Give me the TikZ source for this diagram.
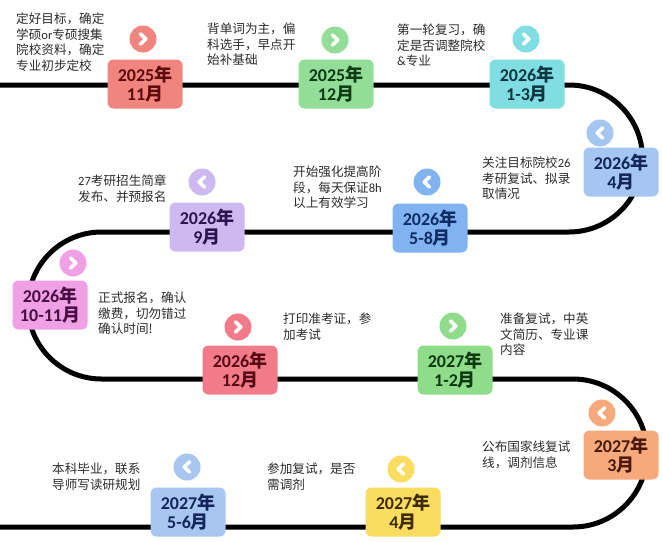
\documentclass[tikz,border=0pt]{standalone}
\usepackage{fontspec}
\setmainfont{Noto Sans CJK SC}
\newfontfamily\latf{Carlito}
\definecolor{txt}{HTML}{2B2B2B}
\definecolor{f1}{HTML}{F0857F}\definecolor{k1}{HTML}{5E0B0B}
\definecolor{f2}{HTML}{92DE98}\definecolor{k2}{HTML}{0E3A16}
\definecolor{f3}{HTML}{80DEE2}\definecolor{k3}{HTML}{0C3640}
\definecolor{f4}{HTML}{A4C6F0}\definecolor{k4}{HTML}{12265A}
\definecolor{f5}{HTML}{80B3F0}\definecolor{k5}{HTML}{102C66}
\definecolor{f6}{HTML}{CDB9F0}\definecolor{k6}{HTML}{2C1450}
\definecolor{f7}{HTML}{F0A0E4}\definecolor{k7}{HTML}{480E44}
\definecolor{f8}{HTML}{F27B89}\definecolor{k8}{HTML}{560A14}
\definecolor{f9}{HTML}{8FDC8B}\definecolor{k9}{HTML}{0E3810}
\definecolor{f10}{HTML}{F6A97C}\definecolor{k10}{HTML}{4A1A06}
\definecolor{f11}{HTML}{F9DC60}\definecolor{k11}{HTML}{3E2A05}
\definecolor{f12}{HTML}{A8C6F0}\definecolor{k12}{HTML}{12265A}
\tikzset{
  x=1pt, y=1pt,
  track/.style={line width=5pt, black},
  datebox/.style={rounded corners=6pt, minimum width=75pt, minimum height=49pt, inner sep=1pt, align=center,
    font=\fontsize{18}{18.5}\selectfont\bfseries},
  chevcirc/.style={circle, minimum size=27pt, inner sep=0pt},
  chev/.style={white, line width=3.6pt, line cap=round, line join=round},
  desc/.style={anchor=north west, inner sep=0pt, align=left, text=txt, font=\fontsize{12.6}{15.5}\selectfont}
}
\newcommand\chevR[1]{\draw[chev] ([xshift=-2.5pt,yshift=5pt]#1.center) -- ([xshift=2.8pt]#1.center) -- ([xshift=-2.5pt,yshift=-5pt]#1.center);}
\newcommand\chevL[1]{\draw[chev] ([xshift=2.5pt,yshift=5pt]#1.center) -- ([xshift=-2.8pt]#1.center) -- ([xshift=2.5pt,yshift=-5pt]#1.center);}
\begin{document}
\begin{tikzpicture}
\useasboundingbox (0,0) rectangle (663,-541);
% track
\coordinate (s0) at (0,-85);
\coordinate (s1) at (569,-85);
\coordinate (s2) at (101.5,-232);
\coordinate (s3) at (573,-379);
\coordinate (s4) at (0,-527);
\draw[track] (s0) -- (s1) arc[start angle=90, end angle=-90, radius=73.5] -- (s2)
  arc[start angle=90, end angle=270, radius=73.5] -- (s3)
  arc[start angle=90, end angle=-90, radius=74] -- (s4);

% row 1
\node[datebox, fill=f1, text=k1] (b1) at (145,-84) {{\latf 2025}年\\{\latf 11}月};
\node[chevcirc, fill=f1] (c1) at (143,-39) {}; \chevR{c1}
\node[desc] (t1) at (16,-13) {定好目标，确定\\学硕{\latf or}专硕搜集\\院校资料，确定\\专业初步定校};

\node[datebox, fill=f2, text=k2] (b2) at (336,-84) {{\latf 2025}年\\{\latf 12}月};
\node[chevcirc, fill=f2] (c2) at (335,-40) {}; \chevR{c2}
\node[desc] (t2) at (207,-23) {背单词为主，偏\\科选手，早点开\\始补基础};

\node[datebox, fill=f3, text=k3] (b3) at (527,-84) {{\latf 2026}年\\{\latf 1-3}月};
\node[chevcirc, fill=f3] (c3) at (526,-39) {}; \chevR{c3}
\node[desc] (t3) at (397,-24) {第一轮复习，确\\定是否调整院校\\{\latf\&}专业};

% row 2
\node[datebox, fill=f4, text=k4] (b4) at (621,-172) {{\latf 2026}年\\{\latf 4}月};
\node[chevcirc, fill=f4] (c4) at (600,-133) {}; \chevL{c4}
\node[desc] (t4) at (482,-157) {关注目标院校{\latf 26}\\考研复试、拟录\\取情况};

\node[datebox, fill=f5, text=k5] (b5) at (430,-228) {{\latf 2026}年\\{\latf 5-8}月};
\node[chevcirc, fill=f5] (c5) at (427,-182) {}; \chevL{c5}
\node[desc] (t5) at (293,-166) {开始强化提高阶\\段，每天保证{\latf 8h}\\以上有效学习};

\node[datebox, fill=f6, text=k6] (b6) at (207,-227) {{\latf 2026}年\\{\latf 9}月};
\node[chevcirc, fill=f6] (c6) at (202,-182) {}; \chevL{c6}
\node[desc] (t6) at (78,-175) {{\latf 27}考研招生简章\\发布、并预报名};

% row 3
\node[datebox, fill=f7, text=k7] (b7) at (50,-305) {{\latf 2026}年\\{\latf 10-11}月};
\node[chevcirc, fill=f7] (c7) at (73,-263) {}; \chevR{c7}
\node[desc] (t7) at (98,-292) {正式报名，确认\\缴费，切勿错过\\确认时间!};

\node[datebox, fill=f8, text=k8] (b8) at (240,-370) {{\latf 2026}年\\{\latf 12}月};
\node[chevcirc, fill=f8] (c8) at (238,-327) {}; \chevR{c8}
\node[desc] (t8) at (283,-313) {打印准考证，参\\加考试};

\node[datebox, fill=f9, text=k9] (b9) at (455,-370) {{\latf 2027}年\\{\latf 1-2}月};
\node[chevcirc, fill=f9] (c9) at (453,-326) {}; \chevR{c9}
\node[desc] (t9) at (500,-313) {准备复试，中英\\文简历、专业课\\内容};

% row 4
\node[datebox, fill=f10, text=k10] (b10) at (621,-455) {{\latf 2027}年\\{\latf 3}月};
\node[chevcirc, fill=f10] (c10) at (602,-413) {}; \chevL{c10}
\node[desc] (t10) at (482,-441) {公布国家线复试\\线，调剂信息};

\node[datebox, fill=f11, text=k11] (b11) at (403,-512) {{\latf 2027}年\\{\latf 4}月};
\node[chevcirc, fill=f11] (c11) at (401,-469) {}; \chevL{c11}
\node[desc] (t11) at (267,-463) {参加复试，是否\\需调剂};

\node[datebox, fill=f12, text=k12] (b12) at (188,-512) {{\latf 2027}年\\{\latf 5-6}月};
\node[chevcirc, fill=f12] (c12) at (187,-467) {}; \chevL{c12}
\node[desc] (t12) at (52,-463) {本科毕业，联系\\导师写读研规划};
\end{tikzpicture}
\end{document}
